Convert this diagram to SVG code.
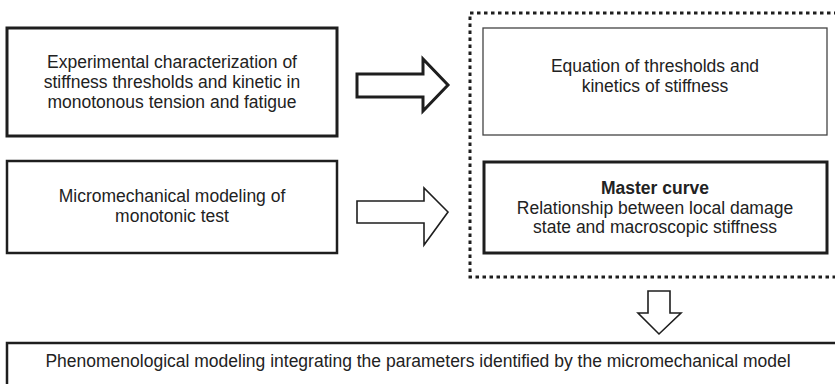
<svg xmlns="http://www.w3.org/2000/svg" width="835" height="384" viewBox="0 0 835 384">
<style>
  text { font-family: "Liberation Sans", Arial, sans-serif; font-size: 17.5px; fill: #222; text-anchor: middle; }
  .b { font-weight: bold; }
  .box { fill: #fff; stroke: #1e1e1e; }
  .thick { stroke-width: 3; }
  .mid { stroke-width: 2.5; }
  .thin { stroke-width: 1.3; stroke: #444; }
  .arrow { fill: #fff; stroke: #1e1e1e; stroke-linejoin: miter; }
  .dotted { fill: none; stroke: #1e1e1e; stroke-width: 3; stroke-dasharray: 3.5 3.5; }
</style>
<rect width="835" height="384" fill="#fff"/>
<g id="group-dotted">
  <rect class="dotted" x="470" y="13" width="380" height="264"/>
</g>
<g id="node-experimental">
  <rect class="box thick" x="7" y="28" width="330" height="108"/>
  <text x="172" y="68">Experimental characterization of</text>
  <text x="172" y="88">stiffness thresholds and kinetic in</text>
  <text x="172" y="108">monotonous tension and fatigue</text>
</g>
<g id="node-micromechanical">
  <rect class="box mid" x="7" y="161" width="330" height="92"/>
  <text x="172" y="202">Micromechanical modeling of</text>
  <text x="172" y="222">monotonic test</text>
</g>
<g id="node-equation">
  <rect class="box thin" x="483" y="28" width="344" height="107"/>
  <text x="655" y="72">Equation of thresholds and</text>
  <text x="655" y="92">kinetics of stiffness</text>
</g>
<g id="node-master">
  <rect class="box thick" x="484" y="162" width="343" height="91"/>
  <text class="b" x="655" y="194">Master curve</text>
  <text x="655" y="214">Relationship between local damage</text>
  <text x="655" y="233">state and macroscopic stiffness</text>
</g>
<g id="node-phenomenological">
  <rect class="box mid" x="7" y="343" width="840" height="60"/>
  <text x="418" y="367">Phenomenological modeling integrating the parameters identified by the micromechanical model</text>
</g>
<g id="connectors">
  <polygon class="arrow" stroke-width="3" points="357,74 423,74 423,59 448,85 423,111 423,97 357,97"/>
  <polygon class="arrow" stroke-width="1.6" points="357,201 424,201 424,188 448,212 424,245 424,223 357,223"/>
  <polygon class="arrow" stroke-width="1.6" points="648,291 670,291 670,313 681,313 659,334 638,313 648,313"/>
</g>
</svg>
